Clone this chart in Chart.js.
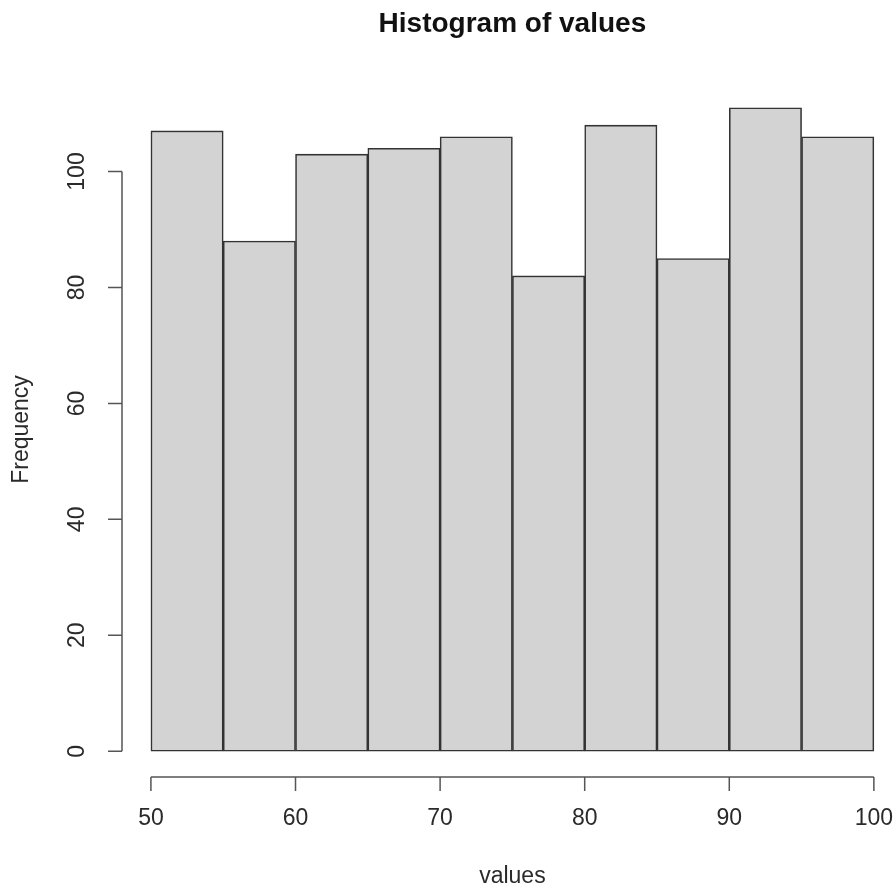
<!DOCTYPE html>
<html>
<head>
<meta charset="utf-8">
<script src="https://cdn.jsdelivr.net/npm/chart.js@4/dist/chart.umd.min.js"></script>
<style>
  html, body { margin: 0; padding: 0; background: #fff; overflow: hidden; }
  #wrap { width: 896px; height: 888px; }
</style>
</head>
<body>
<div id="wrap"><canvas id="canvas"></canvas></div>
<script>
var binMids = [52.5, 57.5, 62.5, 67.5, 72.5, 77.5, 82.5, 87.5, 92.5, 97.5];
var counts = [107, 88, 103, 104, 106, 82, 108, 85, 111, 106];
var xTicks = [50, 60, 70, 80, 90, 100];
var yTicks = [0, 20, 40, 60, 80, 100];

var FONT = "'Liberation Sans', Arial, sans-serif";

var rAxes = {
    id: 'rAxes',
    afterDraw: function (chart) {
        var ctx = chart.ctx;
        var xs = chart.scales.x, ys = chart.scales.y;
        var area = chart.chartArea;
        ctx.save();
        ctx.strokeStyle = '#555';
        ctx.lineWidth = 1.5;
        ctx.fillStyle = '#2a2a2a';

        // x axis
        var ay = area.bottom;
        var x0 = xs.getPixelForValue(xTicks[0]);
        var x1 = xs.getPixelForValue(xTicks[xTicks.length - 1]);
        ctx.beginPath();
        ctx.moveTo(x0, ay);
        ctx.lineTo(x1, ay);
        xTicks.forEach(function (t) {
            var px = xs.getPixelForValue(t);
            ctx.moveTo(px, ay);
            ctx.lineTo(px, ay + 14);
        });
        ctx.stroke();
        ctx.font = '23px ' + FONT;
        ctx.textAlign = 'center';
        ctx.textBaseline = 'middle';
        xTicks.forEach(function (t) {
            ctx.fillText(String(t), xs.getPixelForValue(t), ay + 42);
        });

        // y axis
        var ax = area.left;
        var y0 = ys.getPixelForValue(yTicks[0]);
        var y1 = ys.getPixelForValue(yTicks[yTicks.length - 1]);
        ctx.beginPath();
        ctx.moveTo(ax, y0);
        ctx.lineTo(ax, y1);
        yTicks.forEach(function (t) {
            var py = ys.getPixelForValue(t);
            ctx.moveTo(ax, py);
            ctx.lineTo(ax - 14, py);
        });
        ctx.stroke();
        yTicks.forEach(function (t) {
            ctx.save();
            ctx.translate(ax - 44, ys.getPixelForValue(t));
            ctx.rotate(-Math.PI / 2);
            ctx.fillText(String(t), 0, 0);
            ctx.restore();
        });

        // axis titles
        var midX = xs.getPixelForValue(75);
        ctx.fillText('values', midX, ay + 100);
        ctx.save();
        ctx.translate(22, (area.top + area.bottom) / 2);
        ctx.rotate(-Math.PI / 2);
        ctx.fillText('Frequency', 0, 0);
        ctx.restore();

        // title
        ctx.fillStyle = '#111';
        ctx.font = 'bold 28px ' + FONT;
        ctx.fillText('Histogram of values', midX, 24);
        ctx.restore();
    }
};

window.onload = function () {
    var ctx = document.getElementById("canvas").getContext("2d");
    window.Hist = new Chart(ctx, {
        type: 'bar',
        data: {
            datasets: [{
                data: binMids.map(function (m, i) { return { x: m, y: counts[i] }; }),
                backgroundColor: '#d3d3d3',
                borderColor: '#333',
                borderWidth: 1.6,
                borderSkipped: false,
                barThickness: 'flex',
                barPercentage: 1,
                categoryPercentage: 1
            }]
        },
        options: {
            responsive: true,
            maintainAspectRatio: false,
            animation: false,
            layout: { padding: { left: 122, top: 82, right: 0, bottom: 111 } },
            plugins: { legend: { display: false }, tooltip: { enabled: false } },
            scales: {
                x: { type: 'linear', offset: false, min: 48, max: 101.53, display: false },
                y: { min: -4.44, max: 115.44, display: false }
            }
        },
        plugins: [rAxes]
    });
};
</script>
</body>
</html>
